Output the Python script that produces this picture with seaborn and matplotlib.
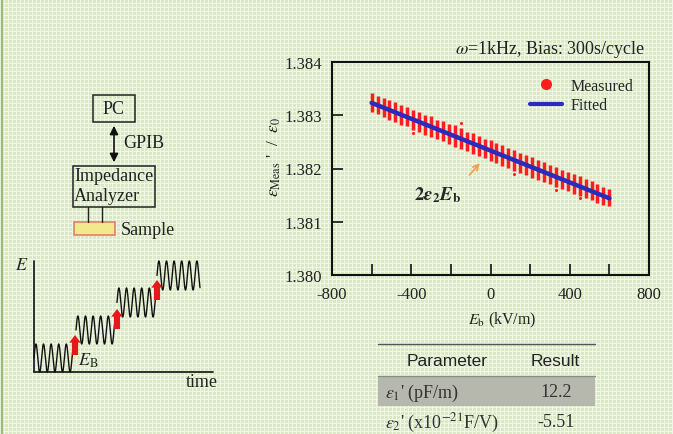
import numpy as np
import seaborn as sns
import matplotlib.pyplot as plt
from matplotlib.lines import Line2D
from matplotlib.patches import Rectangle

# bias field (kV/m) and measured eps'/eps0 band per bias step (top / bottom of the streak)
bias = [-600, -570, -540, -510, -480, -450, -420, -390, -360, -330, -300,
        -270, -240, -210, -180, -150, -120, -90, -60, -30, 0,
        30, 60, 90, 120, 150, 180, 210, 240, 270, 300,
        330, 360, 390, 420, 450, 480, 510, 540, 570, 600]
eps_hi = [1.38342, 1.38337, 1.38333, 1.38328, 1.38325, 1.38319, 1.38315, 1.38310, 1.38306, 1.38301, 1.38298,
          1.38291, 1.38289, 1.38283, 1.38281, 1.38276, 1.38269, 1.38266, 1.38261, 1.38256, 1.38253,
          1.38247, 1.38244, 1.38238, 1.38235, 1.38229, 1.38226, 1.38221, 1.38216, 1.38212, 1.38207,
          1.38203, 1.38198, 1.38194, 1.38189, 1.38185, 1.38180, 1.38176, 1.38171, 1.38166, 1.38161]
eps_lo = [1.38307, 1.38302, 1.38297, 1.38292, 1.38288, 1.38282, 1.38279, 1.38272, 1.38269, 1.38263, 1.38259,
          1.38255, 1.38251, 1.38246, 1.38241, 1.38237, 1.38233, 1.38228, 1.38224, 1.38219, 1.38215,
          1.38210, 1.38205, 1.38201, 1.38196, 1.38192, 1.38187, 1.38183, 1.38178, 1.38174, 1.38170,
          1.38166, 1.38161, 1.38157, 1.38153, 1.38148, 1.38145, 1.38140, 1.38136, 1.38132, 1.38130]
# a few stray points outside the streaks
stray_x = [-390, -150, 120, 330, 450]
stray_y = [1.38267, 1.38286, 1.38190, 1.38160, 1.38144]

x_ticks = [-800, -400, 0, 400, 800]
y_ticks = [1.380, 1.381, 1.382, 1.383, 1.384]

table_rows = [(r"$\varepsilon_1$' (pF/m)", "12.2"),
              (r"$\varepsilon_2$' (x10$^{-21}$F/V)", "-5.51")]

# schematic bias steps: (x start, x end, centre, half amplitude) in pixels
wave_steps = [(34, 73, 359, 14), (76, 117, 331, 14), (117, 157, 303.5, 14.5), (157, 200, 276.5, 14.5)]
step_arrows = [(75, 356, 336), (117, 330, 310), (157, 301, 281)]

sns.set_style("ticks")
plt.rcParams["font.family"] = ["Liberation Serif", "DejaVu Serif"]
plt.rcParams["mathtext.fontset"] = "stix"
plt.rcParams["axes.unicode_minus"] = False

W, H = 673, 435
fig = plt.figure(figsize=(W / 100, H / 100), dpi=100)

# slide background with its light green check
bg = fig.add_axes([0, 0, 1, 1], zorder=0)
bg.set_xlim(0, W)
bg.set_ylim(H, 0)
bg.axis("off")
tex = np.ones((H, W, 3)) * np.array([218, 232, 196]) / 255
yy, xx = np.indices((H, W))
light = (yy % 4 == 0) | (xx % 4 == 0)
tex[light] = np.array([240, 246, 232]) / 255
bg.imshow(tex, extent=(0, W, H, 0), interpolation="nearest", aspect="auto")
bg.plot([1.5, 1.5], [0, H], color="#9cbc7c", lw=1.6)

# block diagram
txt = dict(fontsize=13, color="#222222")
bg.add_patch(Rectangle((93, 96), 42, 27, fill=False, ec="#222222", lw=1.1))
bg.text(114, 110, "PC", ha="center", va="center", **txt)
bg.annotate("", xy=(114, 124), xytext=(114, 166),
            arrowprops=dict(arrowstyle="<|-|>,head_width=0.25,head_length=0.5", color="#111111", lw=1.2))
bg.text(123, 144, "GPIB", ha="left", va="center", **txt)
bg.add_patch(Rectangle((73, 167), 82, 41, fill=False, ec="#222222", lw=1.1))
bg.text(74, 177, "Impedance", ha="left", va="center", **txt)
bg.text(74, 197, "Analyzer", ha="left", va="center", **txt)
bg.plot([88, 88], [208, 223], color="#222222", lw=1)
bg.plot([102, 102], [208, 223], color="#222222", lw=1)
bg.add_patch(Rectangle((74, 223), 41, 13, fc="#f2e98c", ec="#e08070", lw=1.2))
bg.text(121, 231, "Sample", ha="left", va="center", **txt)

# bias-step waveform sketch
bg.plot([34, 34], [262, 373], color="#222222", lw=1.3)
bg.plot([34, 213], [373, 373], color="#222222", lw=1.3)
bg.text(22, 266, "$E$", ha="center", va="center", fontsize=13)
bg.text(202, 383, "time", ha="center", va="center", **txt)
for x0, x1, yc, amp in wave_steps:
    t = np.linspace(x0, x1, 300)
    bg.plot(t, yc - amp * np.sin(2 * np.pi * (t - x0) / 7.6), color="#111111", lw=1)
for xa, y0, y1 in step_arrows:
    bg.annotate("", xy=(xa, y1), xytext=(xa, y0),
                arrowprops=dict(arrowstyle="simple,head_width=0.75,head_length=0.5,tail_width=0.4",
                                color="#e41a1a", lw=0, mutation_scale=11, shrinkA=0, shrinkB=0))
bg.text(78, 361, r"$E_{\rm B}$", ha="left", va="center", fontsize=13)

# parameter table
bg.plot([378, 595], [345, 345], color="#555555", lw=1)
bg.text(447, 362, "Parameter", ha="center", va="center", fontsize=12.5,
        family=["Liberation Sans", "DejaVu Sans"], color="#222222")
bg.text(555, 362, "Result", ha="center", va="center", fontsize=12.5,
        family=["Liberation Sans", "DejaVu Sans"], color="#222222")
bg.add_patch(Rectangle((378, 377), 217, 30, fc="#b6b8ae", ec="none"))
bg.plot([378, 595], [377, 377], color="#8a8c84", lw=1)
for i, (name, val) in enumerate(table_rows):
    yrow = 393 + 30 * i
    bg.text(385, yrow, name, ha="left", va="center", fontsize=13, color="#333333")
    bg.text(556, yrow, val, ha="center", va="center", fontsize=13, color="#333333")

# measurement plot
ax = fig.add_axes([332 / W, 1 - 276 / H, 317 / W, 213 / H], zorder=1)
ax.patch.set_alpha(0)
ax.vlines(bias, eps_lo, eps_hi, colors="#ff1e1e", lw=2.5)
sns.scatterplot(x=stray_x, y=stray_y, color="#ff1e1e", s=5, linewidth=0, ax=ax)
mid = (np.array(eps_hi) + np.array(eps_lo)) / 2
coef = np.polyfit(bias, mid, 1)
sns.lineplot(x=bias, y=np.polyval(coef, bias), color="#2b2bbd", lw=3.2, ax=ax)

ax.set_xlim(-800, 800)
ax.set_ylim(1.380, 1.384)
ax.set_xticks(x_ticks)
ax.set_xticks([-600, -200, 200, 600], minor=True)
ax.set_yticks(y_ticks)
ax.set_yticklabels([f"{v:.3f}" for v in y_ticks])
ax.tick_params(which="both", direction="in", length=8, width=1.3, top=False, right=False,
               labelsize=12, colors="#222222")
ax.tick_params(axis="x", which="both", pad=8)
ax.tick_params(axis="y", pad=7)
for s in ax.spines.values():
    s.set_linewidth(1.5)
    s.set_color("#111111")
    s.set_visible(True)

ax.set_ylabel(r"$\varepsilon_{\rm Meas}$ '  /  $\varepsilon_0$", fontsize=12.5, color="#222222")
ax.yaxis.set_label_coords(-0.155, 0.56)
ax.set_xlabel(r"$E_{\rm b}$ (kV/m)", fontsize=11.5, color="#222222")
ax.xaxis.set_label_coords(0.536, -0.165)

handles = [Line2D([], [], marker="o", ls="none", color="#ff1e1e", ms=7),
           Line2D([], [], color="#2b2bbd", lw=3)]
ax.legend(handles, ["Measured", "Fitted"], loc="upper right", frameon=False, fontsize=11.5,
          handlelength=2.0, handletextpad=0.5, borderaxespad=0.6, labelspacing=0.2)

ax.annotate("", xy=(-45, 1.38214), xytext=(-115, 1.38184),
            arrowprops=dict(arrowstyle="->", color="#f0a050", lw=1.3))
ax.text(-265, 1.38152, r"$\mathbf{2}\mathbfit{\varepsilon}_\mathbf{2}\mathbfit{E}_\mathbf{b}$",
        ha="center", va="center", fontsize=13.5)

fig.text(645 / W, 1 - 49 / H, r"$\omega$=1kHz, Bias: 300s/cycle", ha="right", va="center",
         fontsize=13, color="#222222")

fig.savefig("out.png", dpi=100)
